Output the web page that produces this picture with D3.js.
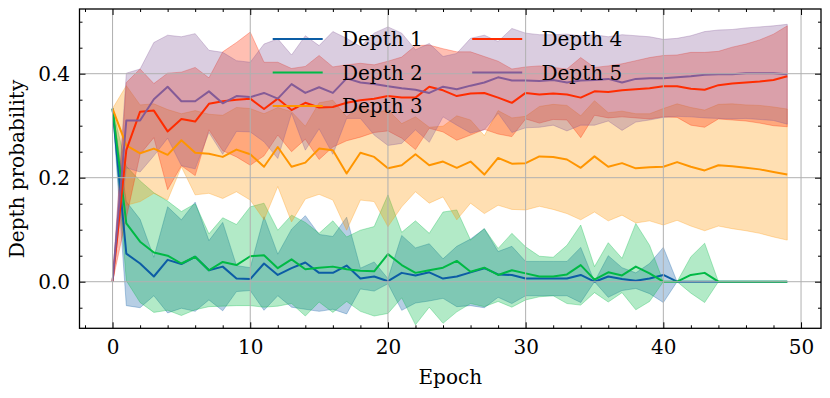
<!DOCTYPE html>
<html><head><meta charset="utf-8">
<script src="https://cdn.jsdelivr.net/npm/d3@7"></script>
<style>
body{margin:0;background:#fff}
svg{display:block}
text{font-family:"DejaVu Serif",serif;fill:#000}
</style>
</head><body>
<svg id="chart" width="830" height="398"></svg>
<script>
const epochs = [0,1,2,3,4,5,6,7,8,9,10,11,12,13,14,15,16,17,18,19,20,21,22,23,24,25,26,27,28,29,30,31,32,33,34,35,36,37,38,39,40,41,42,43,44,45,46,47,48,49];
const seriesNames = ["Depth 1","Depth 2","Depth 3","Depth 4","Depth 5"];
const seriesColors = ["#0C5DA5","#00B945","#FF9500","#FF2C00","#845B97"];

const depth1Mean = [0.333,0.054,0.035,0.010,0.042,0.034,0.048,0.022,0.029,0.006,0.005,0.035,0.013,0.026,0.037,0.017,0.017,0.031,0.006,0.010,0.001,0.017,0.012,0.018,0.006,0.010,0.018,0.026,0.014,0.013,0.006,0.006,0.006,0.006,0.013,0.000,0.010,0.005,0.002,0.006,0.013,0,0,0,0,0,0,0,0,0];
const depth1Std  = [0,0.100,0.085,0.037,0.102,0.085,0.105,0.057,0.085,0.025,0.022,0.090,0.040,0.075,0.090,0.074,0.070,0.093,0.020,0.028,0.005,0.072,0.053,0.055,0.038,0.058,0.064,0.076,0.044,0.055,0.033,0.033,0.033,0.033,0.053,0.000,0.040,0.022,0.015,0.029,0.053,0,0,0,0,0,0,0,0,0];

const depth2Mean = [0.333,0.112,0.077,0.056,0.050,0.035,0.048,0.022,0.038,0.032,0.049,0.051,0.026,0.043,0.024,0.027,0.029,0.024,0.021,0.020,0.053,0.032,0.017,0.022,0.027,0.040,0.019,0.027,0.013,0.022,0.016,0.010,0.010,0.014,0.032,0.004,0.018,0.012,0.029,0.016,0.000,0.000,0.013,0.017,0,0,0,0,0,0];
const depth2Std  = [0,0.110,0.117,0.115,0.105,0.100,0.102,0.070,0.085,0.078,0.095,0.100,0.073,0.085,0.090,0.066,0.088,0.062,0.078,0.086,0.114,0.063,0.100,0.071,0.107,0.098,0.061,0.075,0.051,0.071,0.051,0.039,0.037,0.056,0.077,0.025,0.057,0.033,0.083,0.054,0.000,0.000,0.035,0.057,0,0,0,0,0,0];

const depth3Mean = [0.333,0.262,0.247,0.256,0.244,0.272,0.248,0.246,0.240,0.254,0.245,0.221,0.259,0.221,0.229,0.256,0.253,0.208,0.248,0.240,0.218,0.224,0.245,0.224,0.231,0.219,0.231,0.206,0.238,0.227,0.228,0.241,0.240,0.235,0.219,0.241,0.221,0.228,0.218,0.220,0.221,0.230,0.221,0.214,0.224,0.222,0.219,0.216,0.211,0.206];
const depth3Std  = [0,0.115,0.093,0.086,0.087,0.051,0.081,0.076,0.080,0.081,0.088,0.102,0.076,0.106,0.070,0.088,0.096,0.109,0.091,0.086,0.112,0.080,0.072,0.073,0.068,0.100,0.080,0.075,0.091,0.088,0.090,0.096,0.101,0.104,0.100,0.107,0.104,0.100,0.105,0.103,0.112,0.112,0.114,0.116,0.117,0.120,0.121,0.123,0.125,0.126];

const depth4Mean = [0.000,0.253,0.327,0.329,0.289,0.313,0.308,0.342,0.347,0.350,0.352,0.332,0.352,0.330,0.344,0.335,0.336,0.344,0.349,0.352,0.357,0.354,0.354,0.375,0.368,0.357,0.362,0.363,0.354,0.344,0.363,0.360,0.362,0.360,0.354,0.366,0.365,0.368,0.370,0.372,0.376,0.376,0.371,0.369,0.378,0.381,0.383,0.385,0.388,0.395];
const depth4Std  = [0,0.130,0.082,0.052,0.112,0.090,0.104,0.050,0.095,0.110,0.128,0.090,0.070,0.080,0.070,0.100,0.077,0.073,0.071,0.065,0.067,0.078,0.100,0.080,0.080,0.085,0.080,0.070,0.070,0.065,0.050,0.055,0.050,0.049,0.077,0.046,0.050,0.051,0.055,0.059,0.059,0.060,0.070,0.072,0.065,0.070,0.074,0.080,0.088,0.097];

const depth5Mean = [0.000,0.310,0.310,0.351,0.375,0.347,0.347,0.366,0.343,0.357,0.355,0.363,0.352,0.380,0.363,0.374,0.363,0.391,0.383,0.380,0.376,0.372,0.369,0.363,0.375,0.370,0.377,0.383,0.393,0.387,0.387,0.386,0.388,0.383,0.387,0.388,0.390,0.383,0.390,0.391,0.391,0.393,0.395,0.398,0.399,0.399,0.401,0.401,0.401,0.399];
const depth5Std  = [0,0.091,0.099,0.109,0.099,0.124,0.130,0.079,0.098,0.068,0.067,0.094,0.115,0.056,0.110,0.080,0.118,0.077,0.069,0.098,0.114,0.106,0.077,0.095,0.058,0.069,0.091,0.091,0.069,0.100,0.091,0.089,0.087,0.093,0.086,0.087,0.081,0.092,0.083,0.080,0.075,0.075,0.078,0.083,0.085,0.086,0.087,0.089,0.091,0.096];

const xMajorTicks = [0,10,20,30,40,50];
const xMinorTicks = [-2,2,4,6,8,12,14,16,18,22,24,26,28,32,34,36,38,42,44,46,48];
const yMajorTicks = [0.0,0.2,0.4];
const yMinorTicks = [-0.05,0.05,0.10,0.15,0.25,0.30,0.35,0.45,0.50];
const xLabel = "Epoch";
const yLabel = "Depth probability";

const means = [depth1Mean,depth2Mean,depth3Mean,depth4Mean,depth5Mean];
const stds = [depth1Std,depth2Std,depth3Std,depth4Std,depth5Std];
const series = seriesNames.map((name,i)=>({
  name, color: seriesColors[i],
  pts: epochs.map((e,j)=>({e, m: means[i][j], s: stds[i][j]}))
}));

const svg = d3.select("#chart");
const L=79.5, R=821, T=9, B=328.3;
const x = d3.scaleLinear().domain([-2.4,51.45]).range([L,R]);
const y = d3.scaleLinear().domain([-0.0896,0.5244]).range([B,T]);

svg.append("defs").append("clipPath").attr("id","clip")
  .append("rect").attr("x",L).attr("y",T).attr("width",R-L).attr("height",B-T);

const plot = svg.append("g").attr("clip-path","url(#clip)");

// bands
const area = d3.area().x(d=>x(d.e)).y0(d=>y(d.m-d.s)).y1(d=>y(d.m+d.s));
series.forEach(s=>{
  plot.append("path").datum(s.pts).attr("d",area)
    .attr("fill",s.color).attr("fill-opacity",0.3)
    .attr("stroke",s.color).attr("stroke-opacity",0.3).attr("stroke-width",1)
    .attr("stroke-linejoin","round");
});

// grid
const grid = svg.append("g");
grid.selectAll("line.gx").data(xMajorTicks).join("line")
  .attr("x1",d=>x(d)).attr("x2",d=>x(d)).attr("y1",T).attr("y2",B)
  .attr("stroke","#b0b0b0").attr("stroke-width",1);
grid.selectAll("line.gy").data(yMajorTicks).join("line")
  .attr("y1",d=>y(d)).attr("y2",d=>y(d)).attr("x1",L).attr("x2",R)
  .attr("stroke","#b0b0b0").attr("stroke-width",1);

// lines
const line = d3.line().x(d=>x(d.e)).y(d=>y(d.m));
series.forEach(s=>{
  plot.append("path").datum(s.pts).attr("d",line)
    .attr("fill","none").attr("stroke",s.color).attr("stroke-width",2)
    .attr("stroke-linejoin","round").attr("stroke-linecap","butt");
});

// axes
function styleAxis(g){
  g.select(".domain").remove();
  g.selectAll(".tick line").attr("stroke","#000").attr("stroke-width",1);
  g.selectAll(".tick text").style("font-family",'"DejaVu Serif",serif').style("font-size","20px").attr("fill","#000");
}
const fmtY = d3.format(".1f");
svg.append("g").attr("transform",`translate(0,${B})`)
  .call(d3.axisBottom(x).tickValues(xMajorTicks).tickSize(-6).tickPadding(11.8).tickFormat(d3.format("d"))).call(styleAxis);
svg.append("g").attr("transform",`translate(0,${B})`)
  .call(d3.axisBottom(x).tickValues(xMinorTicks).tickSize(-3).tickFormat("")).call(styleAxis);
svg.append("g").attr("transform",`translate(0,${T})`)
  .call(d3.axisTop(x).tickValues(xMajorTicks).tickSize(-6).tickFormat("")).call(styleAxis);
svg.append("g").attr("transform",`translate(0,${T})`)
  .call(d3.axisTop(x).tickValues(xMinorTicks).tickSize(-3).tickFormat("")).call(styleAxis);
svg.append("g").attr("transform",`translate(${L},0)`)
  .call(d3.axisLeft(y).tickValues(yMajorTicks).tickSize(-6).tickPadding(9.5).tickFormat(fmtY)).call(styleAxis);
svg.append("g").attr("transform",`translate(${L},0)`)
  .call(d3.axisLeft(y).tickValues(yMinorTicks).tickSize(-3).tickFormat("")).call(styleAxis);
svg.append("g").attr("transform",`translate(${R},0)`)
  .call(d3.axisRight(y).tickValues(yMajorTicks).tickSize(-6).tickFormat("")).call(styleAxis);
svg.append("g").attr("transform",`translate(${R},0)`)
  .call(d3.axisRight(y).tickValues(yMinorTicks).tickSize(-3).tickFormat("")).call(styleAxis);

// frame
svg.append("rect").attr("x",L).attr("y",T).attr("width",R-L).attr("height",B-T)
  .attr("fill","none").attr("stroke","#000").attr("stroke-width",1.3);

// labels
svg.append("text").attr("x",(L+R)/2).attr("y",384).attr("text-anchor","middle")
  .style("font-size","20px").text(xLabel);
svg.append("text").attr("transform",`translate(23.5,169) rotate(-90)`).attr("text-anchor","middle")
  .style("font-size","20px").text(yLabel);

// legend
const legX = [272.7, 472.2];
const legTextX = [342, 541.5];
const legY = [39, 72.5, 106];
const leg = svg.append("g");
series.forEach((s,i)=>{
  const col = i<3?0:1, row = i<3?i:i-3;
  leg.append("line").attr("x1",legX[col]).attr("x2",legX[col]+50)
    .attr("y1",legY[row]).attr("y2",legY[row]).attr("stroke",s.color).attr("stroke-width",2);
  leg.append("text").attr("x",legTextX[col]).attr("y",legY[row]+7.2)
    .style("font-size","20px").text(s.name);
});
</script>
</body></html>
